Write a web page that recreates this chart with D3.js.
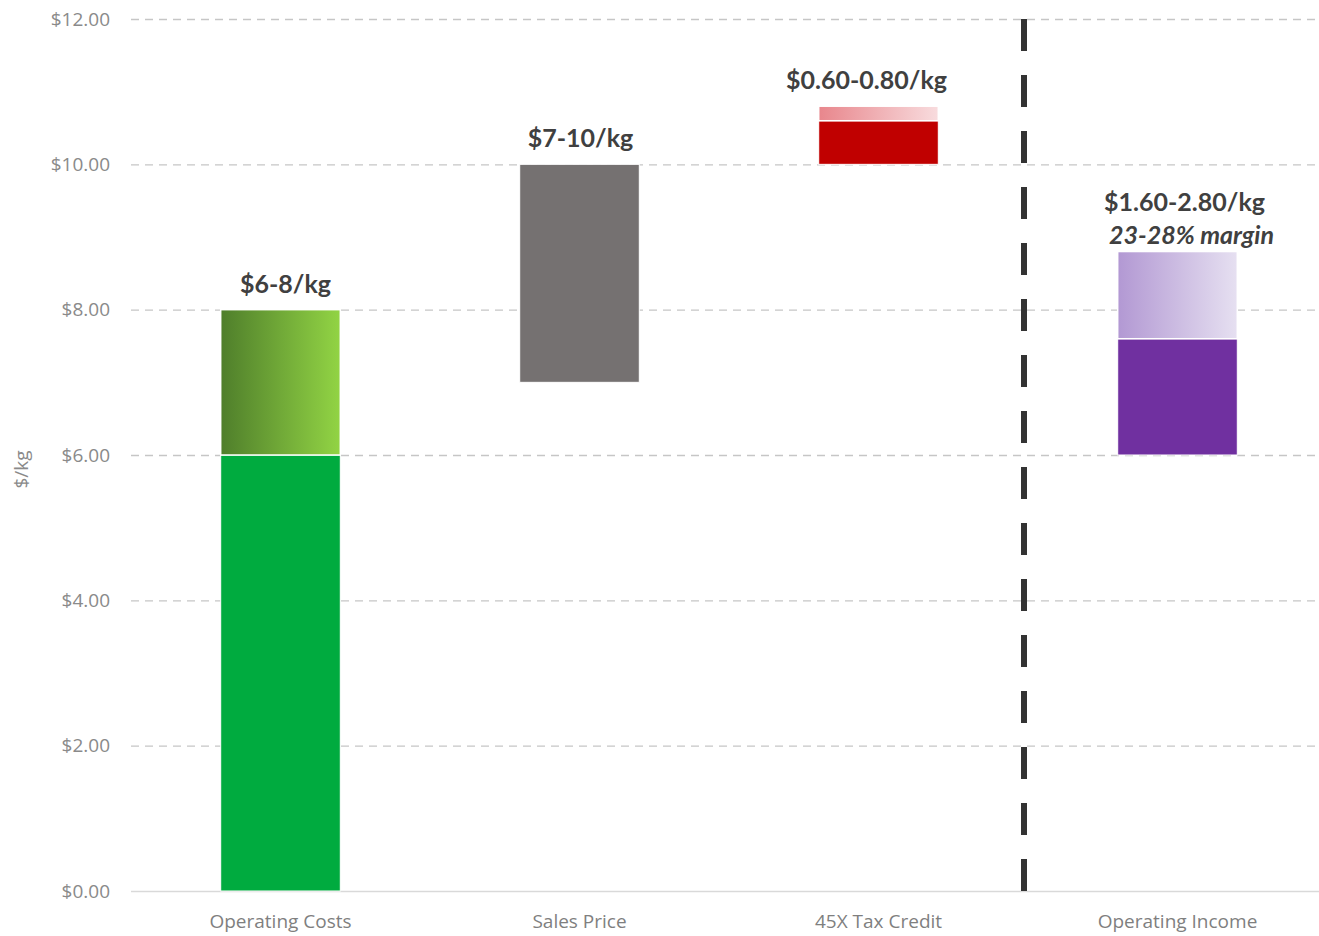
<!DOCTYPE html>
<html>
<head>
<meta charset="utf-8">
<script src="https://cdn.jsdelivr.net/npm/d3@7"></script>
<style>
  body { margin: 0; background: #fff; }
  svg { display: block; }
</style>
</head>
<body>
<div id="chart"></div>
<script>
// data
var categories = ["Operating Costs", "Sales Price", "45X Tax Credit", "Operating Income"];
var baseStart  = [0, 7, 10, 6];
var baseEnd    = [6, 10, 10.6, 7.6];
var rangeEnd   = [8, null, 10.8, 8.8];
var topLabels  = ["$6-8/kg", "$7-10/kg", "$0.60-0.80/kg", "$1.60-2.80/kg"];
var subLabels  = ["", "", "", "23-28% margin"];
var yTicks     = [0, 2, 4, 6, 8, 10, 12];

var solidColors = ["#00AB3F", "#757171", "#C00000", "#7030A0"];
var gradColors  = [["#4F7E2B", "#92D444"], null, ["#E8868C", "#F8DCDE"], ["#B298D3", "#E6E0F1"]];
var labelDx     = [5, 1, -12, 7];

var width = 1319, height = 936;
var margin = {top: 19, right: 0, bottom: 45, left: 131};

var svg = d3.select("#chart").append("svg")
    .attr("width", width)
    .attr("height", height);

var defs = svg.append("defs");
gradColors.forEach(function(c, i) {
  if (!c) return;
  var g = defs.append("linearGradient")
      .attr("id", "grad" + i)
      .attr("x1", "0%").attr("x2", "100%")
      .attr("y1", "0%").attr("y2", "0%");
  g.append("stop").attr("offset", "0%").attr("stop-color", c[0]);
  g.append("stop").attr("offset", "100%").attr("stop-color", c[1]);
});

var x = d3.scaleBand()
    .domain(categories)
    .range([margin.left, 1327])
    .paddingInner(0.6)
    .paddingOuter(0.3);

var y = d3.scaleLinear()
    .domain([0, 12])
    .range([height - margin.bottom, margin.top]);

// gridlines
svg.append("g")
  .selectAll("line")
  .data(yTicks.filter(function(d) { return d > 0; }))
  .enter().append("line")
    .attr("x1", margin.left)
    .attr("x2", width)
    .attr("y1", function(d) { return y(d) + 0.5; })
    .attr("y2", function(d) { return y(d) + 0.5; })
    .attr("stroke", "#c6c6c6")
    .attr("stroke-width", 1.3)
    .attr("stroke-dasharray", "8,6");

// baseline
svg.append("line")
    .attr("x1", margin.left).attr("x2", width)
    .attr("y1", y(0) + 0.5).attr("y2", y(0) + 0.5)
    .attr("stroke", "#d9d9d9")
    .attr("stroke-width", 1.5);

// y axis labels
var yAxis = d3.axisLeft(y)
    .tickValues(yTicks)
    .tickSize(0)
    .tickPadding(21)
    .tickFormat(function(d) { return "$" + d3.format(".2f")(d); });

svg.append("g")
    .attr("transform", "translate(" + margin.left + ",0)")
    .call(yAxis)
    .call(function(g) { g.select(".domain").remove(); })
    .selectAll("text")
      .attr("fill", "#8a8a8a")
      .style("font-family", "'Open Sans', sans-serif")
      .style("font-size", "19px");

// y axis title
svg.append("text")
    .attr("transform", "translate(28," + y(5.8) + ") rotate(-90)")
    .attr("text-anchor", "middle")
    .attr("fill", "#8a8a8a")
    .style("font-family", "'Open Sans', sans-serif")
    .style("font-size", "19px")
    .text("$/kg");

// x axis labels
var xAxis = d3.axisBottom(x).tickSize(0).tickPadding(24);
svg.append("g")
    .attr("transform", "translate(0," + y(0) + ")")
    .call(xAxis)
    .call(function(g) { g.select(".domain").remove(); })
    .selectAll("text")
      .attr("fill", "#7f7f7f")
      .style("font-family", "'Open Sans', sans-serif")
      .style("font-size", "19px");

// solid segments
svg.append("g")
  .selectAll("rect")
  .data(categories)
  .enter().append("rect")
    .attr("x", function(d) { return x(d); })
    .attr("width", x.bandwidth())
    .attr("y", function(d, i) { return y(baseEnd[i]); })
    .attr("height", function(d, i) { return y(baseStart[i]) - y(baseEnd[i]); })
    .attr("fill", function(d, i) { return solidColors[i]; })
    .attr("stroke", "#fff")
    .attr("stroke-width", 1);

// range (gradient) segments
svg.append("g")
  .selectAll("rect")
  .data(categories.filter(function(d, i) { return rangeEnd[i] != null; }))
  .enter().append("rect")
    .attr("x", function(d) { return x(d); })
    .attr("width", x.bandwidth())
    .attr("y", function(d) { var i = categories.indexOf(d); return y(rangeEnd[i]); })
    .attr("height", function(d) { var i = categories.indexOf(d); return y(baseEnd[i]) - y(rangeEnd[i]); })
    .attr("fill", function(d) { return "url(#grad" + categories.indexOf(d) + ")"; })
    .attr("stroke", "#fff")
    .attr("stroke-width", 1.5);

// value labels
function topOf(i) { return rangeEnd[i] != null ? rangeEnd[i] : baseEnd[i]; }

svg.append("g")
  .selectAll("text")
  .data(categories)
  .enter().append("text")
    .attr("x", function(d, i) { return x(d) + x.bandwidth() / 2 + labelDx[i]; })
    .attr("y", function(d, i) { return y(topOf(i)) - (subLabels[i] ? 41 : 17); })
    .attr("text-anchor", "middle")
    .attr("fill", "#404040")
    .style("font-family", "Lato, sans-serif")
    .style("font-weight", "bold")
    .style("font-size", "25px")
    .text(function(d, i) { return topLabels[i]; });

svg.append("g")
  .selectAll("text")
  .data(categories.filter(function(d, i) { return subLabels[i]; }))
  .enter().append("text")
    .attr("x", function(d) { return x(d) + x.bandwidth() / 2 + 14; })
    .attr("y", function(d) { return y(topOf(categories.indexOf(d))) - 8; })
    .attr("text-anchor", "middle")
    .attr("fill", "#404040")
    .style("font-family", "Lato, sans-serif")
    .style("font-weight", "bold")
    .style("font-style", "italic")
    .style("font-size", "25px")
    .text(function(d) { return subLabels[categories.indexOf(d)]; });

// divider between Tax Credit and Operating Income
var divX = (x(categories[2]) + x.bandwidth() + x(categories[3])) / 2 - 4;
svg.append("line")
    .attr("x1", divX).attr("x2", divX)
    .attr("y1", y(12)).attr("y2", y(0) + 3)
    .attr("stroke", "#333")
    .attr("stroke-width", 6)
    .attr("stroke-dasharray", "32,24");
</script>
</body>
</html>
